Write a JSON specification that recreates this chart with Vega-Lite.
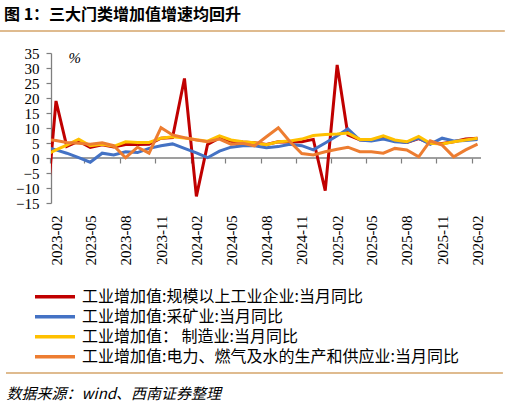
{
  "$schema": "https://vega.github.io/schema/vega-lite/v6.json",
  "width": 430,
  "height": 150,
  "autosize": {"type": "none"},
  "padding": {"left": 51, "top": 53, "right": 29, "bottom": 203},
  "background": "white",
  "title": {
    "text": "图 1：三大门类增加值增速均回升",
    "font": "Noto Sans CJK SC",
    "fontSize": 16,
    "fontWeight": "bold",
    "color": "#000000",
    "anchor": "start",
    "frame": "group",
    "baseline": "middle",
    "dx": -47,
    "dy": 18,
    "offset": 17
  },
  "config": {"view": {"stroke": null}},
  "data": {
    "values": [
      {"month": "2023-01-01", "series": "工业增加值:规模以上工业企业:当月同比", "value": -27},
      {"month": "2023-02-01", "series": "工业增加值:规模以上工业企业:当月同比", "value": 19},
      {"month": "2023-03-01", "series": "工业增加值:规模以上工业企业:当月同比", "value": 3.9},
      {"month": "2023-04-01", "series": "工业增加值:规模以上工业企业:当月同比", "value": 5.6},
      {"month": "2023-05-01", "series": "工业增加值:规模以上工业企业:当月同比", "value": 3.5},
      {"month": "2023-06-01", "series": "工业增加值:规模以上工业企业:当月同比", "value": 4.4},
      {"month": "2023-07-01", "series": "工业增加值:规模以上工业企业:当月同比", "value": 3.7},
      {"month": "2023-08-01", "series": "工业增加值:规模以上工业企业:当月同比", "value": 4.5},
      {"month": "2023-09-01", "series": "工业增加值:规模以上工业企业:当月同比", "value": 4.5},
      {"month": "2023-10-01", "series": "工业增加值:规模以上工业企业:当月同比", "value": 4.6},
      {"month": "2023-11-01", "series": "工业增加值:规模以上工业企业:当月同比", "value": 6.6},
      {"month": "2023-12-01", "series": "工业增加值:规模以上工业企业:当月同比", "value": 6.8},
      {"month": "2024-01-01", "series": "工业增加值:规模以上工业企业:当月同比", "value": 26.5},
      {"month": "2024-02-01", "series": "工业增加值:规模以上工业企业:当月同比", "value": -12.8},
      {"month": "2024-03-01", "series": "工业增加值:规模以上工业企业:当月同比", "value": 4.5},
      {"month": "2024-04-01", "series": "工业增加值:规模以上工业企业:当月同比", "value": 6.7},
      {"month": "2024-05-01", "series": "工业增加值:规模以上工业企业:当月同比", "value": 5.6},
      {"month": "2024-06-01", "series": "工业增加值:规模以上工业企业:当月同比", "value": 5.3},
      {"month": "2024-07-01", "series": "工业增加值:规模以上工业企业:当月同比", "value": 5.1},
      {"month": "2024-08-01", "series": "工业增加值:规模以上工业企业:当月同比", "value": 4.5},
      {"month": "2024-09-01", "series": "工业增加值:规模以上工业企业:当月同比", "value": 5.4},
      {"month": "2024-10-01", "series": "工业增加值:规模以上工业企业:当月同比", "value": 5.3},
      {"month": "2024-11-01", "series": "工业增加值:规模以上工业企业:当月同比", "value": 5.4},
      {"month": "2024-12-01", "series": "工业增加值:规模以上工业企业:当月同比", "value": 6.2},
      {"month": "2025-01-01", "series": "工业增加值:规模以上工业企业:当月同比", "value": -10.9},
      {"month": "2025-02-01", "series": "工业增加值:规模以上工业企业:当月同比", "value": 31},
      {"month": "2025-03-01", "series": "工业增加值:规模以上工业企业:当月同比", "value": 7.7},
      {"month": "2025-04-01", "series": "工业增加值:规模以上工业企业:当月同比", "value": 6.1},
      {"month": "2025-05-01", "series": "工业增加值:规模以上工业企业:当月同比", "value": 5.8},
      {"month": "2025-06-01", "series": "工业增加值:规模以上工业企业:当月同比", "value": 6.8},
      {"month": "2025-07-01", "series": "工业增加值:规模以上工业企业:当月同比", "value": 5.7},
      {"month": "2025-08-01", "series": "工业增加值:规模以上工业企业:当月同比", "value": 5.2},
      {"month": "2025-09-01", "series": "工业增加值:规模以上工业企业:当月同比", "value": 6.5},
      {"month": "2025-10-01", "series": "工业增加值:规模以上工业企业:当月同比", "value": 4.9},
      {"month": "2025-11-01", "series": "工业增加值:规模以上工业企业:当月同比", "value": 4.8},
      {"month": "2025-12-01", "series": "工业增加值:规模以上工业企业:当月同比", "value": 5.4},
      {"month": "2026-01-01", "series": "工业增加值:规模以上工业企业:当月同比", "value": 6.3},
      {"month": "2026-02-01", "series": "工业增加值:规模以上工业企业:当月同比", "value": 6.6},
      {"month": "2023-01-01", "series": "工业增加值:采矿业:当月同比", "value": 3.8},
      {"month": "2023-02-01", "series": "工业增加值:采矿业:当月同比", "value": 2.7},
      {"month": "2023-03-01", "series": "工业增加值:采矿业:当月同比", "value": 1.6},
      {"month": "2023-04-01", "series": "工业增加值:采矿业:当月同比", "value": 0.1},
      {"month": "2023-05-01", "series": "工业增加值:采矿业:当月同比", "value": -1.4},
      {"month": "2023-06-01", "series": "工业增加值:采矿业:当月同比", "value": 1.6},
      {"month": "2023-07-01", "series": "工业增加值:采矿业:当月同比", "value": 1.0},
      {"month": "2023-08-01", "series": "工业增加值:采矿业:当月同比", "value": 2.1},
      {"month": "2023-09-01", "series": "工业增加值:采矿业:当月同比", "value": 1.8},
      {"month": "2023-10-01", "series": "工业增加值:采矿业:当月同比", "value": 3.2},
      {"month": "2023-11-01", "series": "工业增加值:采矿业:当月同比", "value": 4.1},
      {"month": "2023-12-01", "series": "工业增加值:采矿业:当月同比", "value": 4.7},
      {"month": "2024-01-01", "series": "工业增加值:采矿业:当月同比", "value": 3.2},
      {"month": "2024-02-01", "series": "工业增加值:采矿业:当月同比", "value": 1.7},
      {"month": "2024-03-01", "series": "工业增加值:采矿业:当月同比", "value": 0.1},
      {"month": "2024-04-01", "series": "工业增加值:采矿业:当月同比", "value": 2.3},
      {"month": "2024-05-01", "series": "工业增加值:采矿业:当月同比", "value": 3.6},
      {"month": "2024-06-01", "series": "工业增加值:采矿业:当月同比", "value": 4.1},
      {"month": "2024-07-01", "series": "工业增加值:采矿业:当月同比", "value": 4.1},
      {"month": "2024-08-01", "series": "工业增加值:采矿业:当月同比", "value": 3.4},
      {"month": "2024-09-01", "series": "工业增加值:采矿业:当月同比", "value": 3.8},
      {"month": "2024-10-01", "series": "工业增加值:采矿业:当月同比", "value": 4.6},
      {"month": "2024-11-01", "series": "工业增加值:采矿业:当月同比", "value": 4.1},
      {"month": "2024-12-01", "series": "工业增加值:采矿业:当月同比", "value": 2.7},
      {"month": "2025-01-01", "series": "工业增加值:采矿业:当月同比", "value": 5.0},
      {"month": "2025-02-01", "series": "工业增加值:采矿业:当月同比", "value": 7.4},
      {"month": "2025-03-01", "series": "工业增加值:采矿业:当月同比", "value": 9.7},
      {"month": "2025-04-01", "series": "工业增加值:采矿业:当月同比", "value": 6.0},
      {"month": "2025-05-01", "series": "工业增加值:采矿业:当月同比", "value": 5.7},
      {"month": "2025-06-01", "series": "工业增加值:采矿业:当月同比", "value": 6.3},
      {"month": "2025-07-01", "series": "工业增加值:采矿业:当月同比", "value": 5.4},
      {"month": "2025-08-01", "series": "工业增加值:采矿业:当月同比", "value": 5.2},
      {"month": "2025-09-01", "series": "工业增加值:采矿业:当月同比", "value": 6.6},
      {"month": "2025-10-01", "series": "工业增加值:采矿业:当月同比", "value": 4.6},
      {"month": "2025-11-01", "series": "工业增加值:采矿业:当月同比", "value": 6.6},
      {"month": "2025-12-01", "series": "工业增加值:采矿业:当月同比", "value": 5.7},
      {"month": "2026-01-01", "series": "工业增加值:采矿业:当月同比", "value": 5.8},
      {"month": "2026-02-01", "series": "工业增加值:采矿业:当月同比", "value": 6.2},
      {"month": "2023-01-01", "series": "工业增加值： 制造业:当月同比", "value": 0.7},
      {"month": "2023-02-01", "series": "工业增加值： 制造业:当月同比", "value": 2.7},
      {"month": "2023-03-01", "series": "工业增加值： 制造业:当月同比", "value": 4.3},
      {"month": "2023-04-01", "series": "工业增加值： 制造业:当月同比", "value": 6.3},
      {"month": "2023-05-01", "series": "工业增加值： 制造业:当月同比", "value": 4.1},
      {"month": "2023-06-01", "series": "工业增加值： 制造业:当月同比", "value": 4.6},
      {"month": "2023-07-01", "series": "工业增加值： 制造业:当月同比", "value": 3.9},
      {"month": "2023-08-01", "series": "工业增加值： 制造业:当月同比", "value": 5.4},
      {"month": "2023-09-01", "series": "工业增加值： 制造业:当月同比", "value": 5.2},
      {"month": "2023-10-01", "series": "工业增加值： 制造业:当月同比", "value": 5.2},
      {"month": "2023-11-01", "series": "工业增加值： 制造业:当月同比", "value": 6.6},
      {"month": "2023-12-01", "series": "工业增加值： 制造业:当月同比", "value": 7.1},
      {"month": "2024-01-01", "series": "工业增加值： 制造业:当月同比", "value": 6.7},
      {"month": "2024-02-01", "series": "工业增加值： 制造业:当月同比", "value": 6.1},
      {"month": "2024-03-01", "series": "工业增加值： 制造业:当月同比", "value": 5.6},
      {"month": "2024-04-01", "series": "工业增加值： 制造业:当月同比", "value": 7.4},
      {"month": "2024-05-01", "series": "工业增加值： 制造业:当月同比", "value": 6.0},
      {"month": "2024-06-01", "series": "工业增加值： 制造业:当月同比", "value": 5.4},
      {"month": "2024-07-01", "series": "工业增加值： 制造业:当月同比", "value": 5.1},
      {"month": "2024-08-01", "series": "工业增加值： 制造业:当月同比", "value": 4.4},
      {"month": "2024-09-01", "series": "工业增加值： 制造业:当月同比", "value": 5.4},
      {"month": "2024-10-01", "series": "工业增加值： 制造业:当月同比", "value": 5.7},
      {"month": "2024-11-01", "series": "工业增加值： 制造业:当月同比", "value": 6.3},
      {"month": "2024-12-01", "series": "工业增加值： 制造业:当月同比", "value": 7.5},
      {"month": "2025-01-01", "series": "工业增加值： 制造业:当月同比", "value": 7.8},
      {"month": "2025-02-01", "series": "工业增加值： 制造业:当月同比", "value": 8.0},
      {"month": "2025-03-01", "series": "工业增加值： 制造业:当月同比", "value": 8.3},
      {"month": "2025-04-01", "series": "工业增加值： 制造业:当月同比", "value": 6.2},
      {"month": "2025-05-01", "series": "工业增加值： 制造业:当月同比", "value": 6.2},
      {"month": "2025-06-01", "series": "工业增加值： 制造业:当月同比", "value": 7.4},
      {"month": "2025-07-01", "series": "工业增加值： 制造业:当月同比", "value": 6.0},
      {"month": "2025-08-01", "series": "工业增加值： 制造业:当月同比", "value": 5.4},
      {"month": "2025-09-01", "series": "工业增加值： 制造业:当月同比", "value": 7.2},
      {"month": "2025-10-01", "series": "工业增加值： 制造业:当月同比", "value": 4.9},
      {"month": "2025-11-01", "series": "工业增加值： 制造业:当月同比", "value": 4.7},
      {"month": "2025-12-01", "series": "工业增加值： 制造业:当月同比", "value": 5.4},
      {"month": "2026-01-01", "series": "工业增加值： 制造业:当月同比", "value": 6.0},
      {"month": "2026-02-01", "series": "工业增加值： 制造业:当月同比", "value": 6.6},
      {"month": "2023-01-01", "series": "工业增加值:电力、燃气及水的生产和供应业:当月同比", "value": 6.2},
      {"month": "2023-02-01", "series": "工业增加值:电力、燃气及水的生产和供应业:当月同比", "value": 5.8},
      {"month": "2023-03-01", "series": "工业增加值:电力、燃气及水的生产和供应业:当月同比", "value": 5.2},
      {"month": "2023-04-01", "series": "工业增加值:电力、燃气及水的生产和供应业:当月同比", "value": 4.9},
      {"month": "2023-05-01", "series": "工业增加值:电力、燃气及水的生产和供应业:当月同比", "value": 4.6},
      {"month": "2023-06-01", "series": "工业增加值:电力、燃气及水的生产和供应业:当月同比", "value": 5.1},
      {"month": "2023-07-01", "series": "工业增加值:电力、燃气及水的生产和供应业:当月同比", "value": 4.1},
      {"month": "2023-08-01", "series": "工业增加值:电力、燃气及水的生产和供应业:当月同比", "value": 0.1},
      {"month": "2023-09-01", "series": "工业增加值:电力、燃气及水的生产和供应业:当月同比", "value": 3.6},
      {"month": "2023-10-01", "series": "工业增加值:电力、燃气及水的生产和供应业:当月同比", "value": 1.6},
      {"month": "2023-11-01", "series": "工业增加值:电力、燃气及水的生产和供应业:当月同比", "value": 10.1},
      {"month": "2023-12-01", "series": "工业增加值:电力、燃气及水的生产和供应业:当月同比", "value": 7.7},
      {"month": "2024-01-01", "series": "工业增加值:电力、燃气及水的生产和供应业:当月同比", "value": 6.8},
      {"month": "2024-02-01", "series": "工业增加值:电力、燃气及水的生产和供应业:当月同比", "value": 6.0},
      {"month": "2024-03-01", "series": "工业增加值:电力、燃气及水的生产和供应业:当月同比", "value": 5.4},
      {"month": "2024-04-01", "series": "工业增加值:电力、燃气及水的生产和供应业:当月同比", "value": 6.3},
      {"month": "2024-05-01", "series": "工业增加值:电力、燃气及水的生产和供应业:当月同比", "value": 4.6},
      {"month": "2024-06-01", "series": "工业增加值:电力、燃气及水的生产和供应业:当月同比", "value": 4.9},
      {"month": "2024-07-01", "series": "工业增加值:电力、燃气及水的生产和供应业:当月同比", "value": 4.0},
      {"month": "2024-08-01", "series": "工业增加值:电力、燃气及水的生产和供应业:当月同比", "value": 7.1},
      {"month": "2024-09-01", "series": "工业增加值:电力、燃气及水的生产和供应业:当月同比", "value": 10.1},
      {"month": "2024-10-01", "series": "工业增加值:电力、燃气及水的生产和供应业:当月同比", "value": 5.5},
      {"month": "2024-11-01", "series": "工业增加值:电力、燃气及水的生产和供应业:当月同比", "value": 1.5},
      {"month": "2024-12-01", "series": "工业增加值:电力、燃气及水的生产和供应业:当月同比", "value": 1.0},
      {"month": "2025-01-01", "series": "工业增加值:电力、燃气及水的生产和供应业:当月同比", "value": 2.1},
      {"month": "2025-02-01", "series": "工业增加值:电力、燃气及水的生产和供应业:当月同比", "value": 2.9},
      {"month": "2025-03-01", "series": "工业增加值:电力、燃气及水的生产和供应业:当月同比", "value": 3.6},
      {"month": "2025-04-01", "series": "工业增加值:电力、燃气及水的生产和供应业:当月同比", "value": 2.1},
      {"month": "2025-05-01", "series": "工业增加值:电力、燃气及水的生产和供应业:当月同比", "value": 2.1},
      {"month": "2025-06-01", "series": "工业增加值:电力、燃气及水的生产和供应业:当月同比", "value": 1.6},
      {"month": "2025-07-01", "series": "工业增加值:电力、燃气及水的生产和供应业:当月同比", "value": 3.2},
      {"month": "2025-08-01", "series": "工业增加值:电力、燃气及水的生产和供应业:当月同比", "value": 2.7},
      {"month": "2025-09-01", "series": "工业增加值:电力、燃气及水的生产和供应业:当月同比", "value": 0.4},
      {"month": "2025-10-01", "series": "工业增加值:电力、燃气及水的生产和供应业:当月同比", "value": 5.7},
      {"month": "2025-11-01", "series": "工业增加值:电力、燃气及水的生产和供应业:当月同比", "value": 4.3},
      {"month": "2025-12-01", "series": "工业增加值:电力、燃气及水的生产和供应业:当月同比", "value": 0.4},
      {"month": "2026-01-01", "series": "工业增加值:电力、燃气及水的生产和供应业:当月同比", "value": 2.7},
      {"month": "2026-02-01", "series": "工业增加值:电力、燃气及水的生产和供应业:当月同比", "value": 4.6}
    ]
  },
  "layer": [
    {
      "data": {"values": [{}]},
      "mark": {"type": "rule", "color": "#7F7F7F", "strokeWidth": 1.3},
      "encoding": {
        "y": {"datum": 0, "type": "quantitative", "axis": null}
      }
    },
    {
      "mark": {"type": "line", "opacity": 0},
      "encoding": {
        "x": {
          "field": "month",
          "type": "temporal",
          "axis": {
            "orient": "bottom",
            "offset": -45,
            "labels": false,
            "ticks": true,
            "tickSize": 5,
            "tickWidth": 1.2,
            "tickOffset": -5.85,
            "tickColor": "#7F7F7F",
            "domain": false,
            "grid": false,
            "title": null,
            "values": [
              {"year": 2023, "month": 2, "date": 1}, {"year": 2023, "month": 5, "date": 1},
              {"year": 2023, "month": 8, "date": 1}, {"year": 2023, "month": 11, "date": 1},
              {"year": 2024, "month": 2, "date": 1}, {"year": 2024, "month": 5, "date": 1},
              {"year": 2024, "month": 8, "date": 1}, {"year": 2024, "month": 11, "date": 1},
              {"year": 2025, "month": 2, "date": 1}, {"year": 2025, "month": 5, "date": 1},
              {"year": 2025, "month": 8, "date": 1}, {"year": 2025, "month": 11, "date": 1},
              {"year": 2026, "month": 2, "date": 1}
            ]
          }
        },
        "y": {"field": "value", "type": "quantitative", "axis": null}
      }
    },
    {
      "mark": {"type": "line", "strokeWidth": 3, "clip": true},
      "encoding": {
        "x": {
          "field": "month",
          "type": "temporal",
          "scale": {"domain": [{"year": 2023, "month": 1, "date": 19}, {"year": 2026, "month": 2, "date": 10}]},
          "axis": {
            "orient": "bottom",
            "domain": false,
            "ticks": false,
            "grid": false,
            "values": [
              {"year": 2023, "month": 2, "date": 1}, {"year": 2023, "month": 5, "date": 1},
              {"year": 2023, "month": 8, "date": 1}, {"year": 2023, "month": 11, "date": 1},
              {"year": 2024, "month": 2, "date": 1}, {"year": 2024, "month": 5, "date": 1},
              {"year": 2024, "month": 8, "date": 1}, {"year": 2024, "month": 11, "date": 1},
              {"year": 2025, "month": 2, "date": 1}, {"year": 2025, "month": 5, "date": 1},
              {"year": 2025, "month": 8, "date": 1}, {"year": 2025, "month": 11, "date": 1},
              {"year": 2026, "month": 2, "date": 1}
            ],
            "format": "%Y-%m",
            "labelAngle": -90,
            "labelFont": "Liberation Serif",
            "labelFontSize": 15,
            "labelColor": "#000000",
            "labelPadding": 12,
            "labelOverlap": false,
            "labelFlush": false,
            "title": "数据来源：wind、西南证券整理",
            "titleFont": "Noto Sans CJK SC",
            "titleFontSize": 15,
            "titleFontStyle": "italic",
            "titleFontWeight": "normal",
            "titleColor": "#000000",
            "titleAngle": 0,
            "titleAlign": "left",
            "titleBaseline": "middle",
            "titleX": -45,
            "titleY": 190
          }
        },
        "y": {
          "field": "value",
          "type": "quantitative",
          "scale": {"domain": [-15, 35], "nice": false, "zero": false},
          "axis": {
            "orient": "left",
            "values": [-15, -10, -5, 0, 5, 10, 15, 20, 25, 30, 35],
            "grid": false,
            "domain": true,
            "domainColor": "#7F7F7F",
            "domainWidth": 1.3,
            "ticks": true,
            "tickColor": "#7F7F7F",
            "tickSize": 5,
            "tickWidth": 1.2,
            "labelFont": "Liberation Serif",
            "labelFontSize": 15,
            "labelColor": "#000000",
            "labelPadding": 7,
            "labelOverlap": false,
            "labelFlush": false,
            "title": "%",
            "titleFont": "Liberation Serif",
            "titleFontSize": 15,
            "titleFontStyle": "italic",
            "titleFontWeight": "normal",
            "titleColor": "#000000",
            "titleAngle": 0,
            "titleAlign": "left",
            "titleBaseline": "middle",
            "titleX": 17,
            "titleY": 4
          }
        },
        "color": {
          "field": "series",
          "type": "nominal",
          "scale": {
            "domain": [
              "工业增加值:规模以上工业企业:当月同比",
              "工业增加值:采矿业:当月同比",
              "工业增加值： 制造业:当月同比",
              "工业增加值:电力、燃气及水的生产和供应业:当月同比"
            ],
            "range": ["#C00000", "#4472C4", "#FFC000", "#ED7D31"]
          },
          "legend": {
            "orient": "none",
            "legendX": -18,
            "legendY": 234,
            "direction": "vertical",
            "title": null,
            "padding": 0,
            "symbolType": "stroke",
            "symbolSize": 1600,
            "symbolStrokeWidth": 3.5,
            "labelFont": "Noto Sans CJK SC",
            "labelFontSize": 16,
            "labelColor": "#000000",
            "labelOffset": 5,
            "labelLimit": 500,
            "rowPadding": 0,
            "clipHeight": 19.3
          }
        }
      }
    },
    {
      "data": {"values": [{}]},
      "mark": {"type": "rule", "color": "#D4A56A", "strokeWidth": 1.5, "clip": false},
      "encoding": {
        "x": {"datum": {"year": 2022, "month": 9, "date": 8}, "type": "temporal", "axis": null},
        "x2": {"datum": {"year": 2026, "month": 4, "date": 13}},
        "y": {"datum": 42.33, "type": "quantitative", "axis": null}
      }
    },
    {
      "data": {"values": [{}]},
      "mark": {"type": "rule", "color": "#D4A56A", "strokeWidth": 1.5, "clip": false},
      "encoding": {
        "x": {"datum": {"year": 2022, "month": 9, "date": 24}, "type": "temporal", "axis": null},
        "x2": {"datum": {"year": 2026, "month": 4, "date": 8}},
        "y": {"datum": -71.67, "type": "quantitative", "axis": null}
      }
    }
  ],
  "resolve": {"axis": {"x": "independent", "y": "independent"}}
}
